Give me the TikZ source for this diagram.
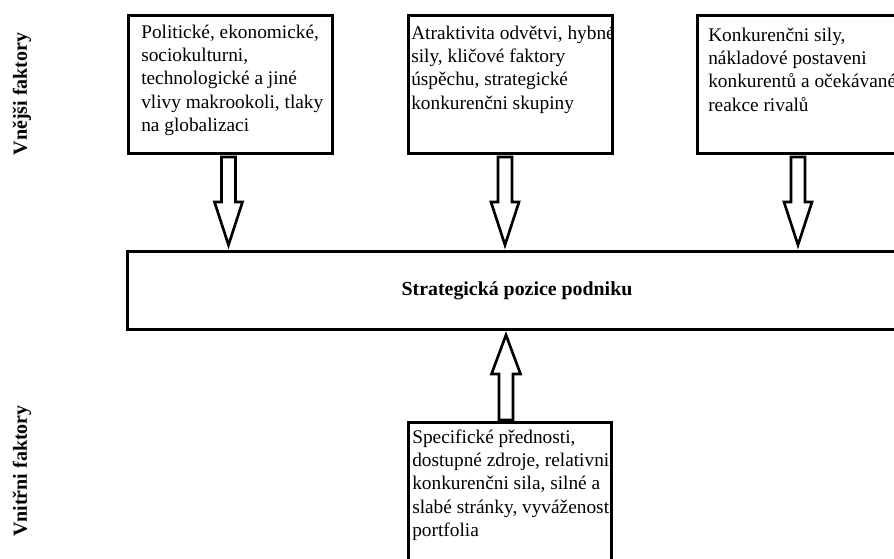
\documentclass[tikz,border=0pt]{standalone}
\usepackage{fontspec}
\setmainfont{Liberation Serif}
\usetikzlibrary{calc}
\tikzset{
  box/.style={draw, line width=2.25pt, outer sep=0pt, inner sep=0pt, anchor=north west, fill=white},
  txt/.style={anchor=base west, inner sep=0pt, font=\fontsize{14.5}{17.55}\selectfont},
  maintxt/.style={inner sep=0pt, font=\fontsize{14.9}{17.6}\selectfont\bfseries},
  side/.style={rotate=90, inner sep=0pt, font=\fontsize{15}{17.6}\selectfont\bfseries},
  blockarrow/.style={draw, line width=2pt, fill=white, line join=miter}
}
\newcommand\TxtBlock[1]{\parbox[t]{170pt}{\raggedright #1}}
% #1 start, #2 tip, #3 signed head length, #4 shaft half width, #5 head half width
\newcommand\BlkArrow[5]{%
  \draw[blockarrow] ($(#1)+(-#4,0)$) -- ($(#2)+(-#4,#3)$) -- ($(#2)+(-#5,#3)$) -- (#2)
    -- ($(#2)+(#5,#3)$) -- ($(#2)+(#4,#3)$) -- ($(#1)+(#4,0)$) -- cycle;}
\begin{document}
\begin{tikzpicture}[x=0.75pt,y=-0.75pt]
\useasboundingbox (0,0) rectangle (894,558);
\clip (0,0) rectangle (894,558);

% boxes
\node[box, minimum width=153pt, minimum height=103.9pt] (b1) at (128,15) {};
\node[box, minimum width=153pt, minimum height=103.9pt] (b2) at (408,15) {};
\node[box, minimum width=165pt, minimum height=103.9pt] (b3) at (697,15) {};
\node[box, minimum width=585pt, minimum height=58.5pt] (main) at (127,251) {};
\node[box, minimum width=152.25pt, minimum height=112.5pt] (b4) at (408,422) {};

% texts
\node[txt] (t1) at ($(b1.north west)+(13,23)$) {\TxtBlock{Politické, ekonomické,\\sociokulturni,\\technologické a jiné\\vlivy makrookoli, tlaky\\na globalizaci}};
\node[txt] (t2) at ($(b2.north west)+(3,24)$) {\TxtBlock{Atraktivita odvětvi, hybné\\sily, kličové faktory\\úspěchu, strategické\\konkurenčni skupiny}};
\node[txt] (t3) at ($(b3.north west)+(11,26)$) {\TxtBlock{Konkurenčni sily,\\nákladové postaveni\\konkurentů a očekávané\\reakce rivalů}};
\node[txt] (t4) at ($(b4.north west)+(4,21)$) {\TxtBlock{Specifické přednosti,\\dostupné zdroje, relativni\\konkurenčni sila, silné a\\slabé stránky, vyváženost\\portfolia}};
\node[maintxt] (mt) at ($(main.center)+(0,1)$) {Strategická pozice podniku};

% side labels
\node[side] (ext) at (22,94) {Vnějši faktory};
\node[side] (int) at (22,471) {Vnitřni faktory};

% arrows
\coordinate (tip1) at ($(228.5,0 |- main.north)+(0,-6)$);
\coordinate (tip2) at ($(505,0 |- main.north)+(0,-6)$);
\coordinate (tip3) at ($(798,0 |- main.north)+(0,-6)$);
\coordinate (tip4) at ($(506,0 |- main.south)+(0,6)$);
\coordinate (s1) at ($(b1.south -| tip1)+(0,3.5)$);
\coordinate (s2) at ($(b2.south -| tip2)+(0,3.5)$);
\coordinate (s3) at ($(b3.south -| tip3)+(0,3.5)$);
\coordinate (s4) at ($(b4.north -| tip4)+(0,-2)$);
\BlkArrow{s1}{tip1}{-43}{7}{14}
\BlkArrow{s2}{tip2}{-43}{7}{14}
\BlkArrow{s3}{tip3}{-43}{7}{14}
\BlkArrow{s4}{tip4}{39}{7}{14.5}
\end{tikzpicture}
\end{document}
